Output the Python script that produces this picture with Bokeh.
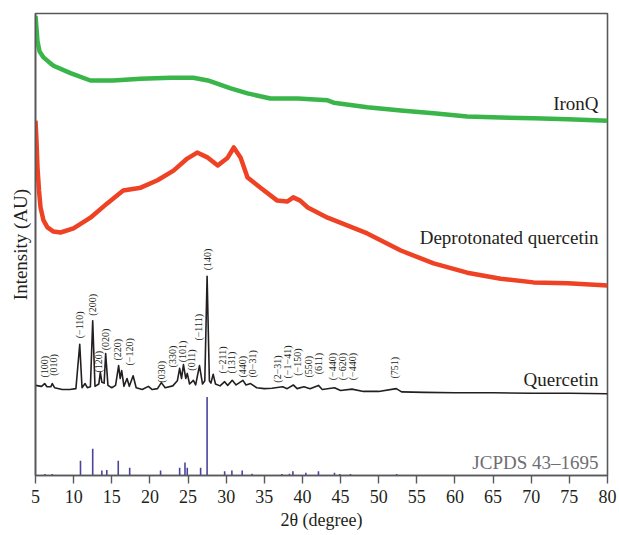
import math
from bokeh.plotting import figure
from bokeh.models import Range1d, FixedTicker, Label, ColumnDataSource, Title
from bokeh.core.properties import value
from bokeh.embed import file_html
from bokeh.resources import INLINE

# ---------------- data (2theta in degrees, intensity in arbitrary offset units) ----------------
ironq_x = [5.0, 5.13, 5.26, 5.53, 6.05, 6.97, 7.36, 9.59, 12.2, 15.2, 18.8, 22.7, 25.7, 27.6, 30.6,
           32.8, 35.8, 39.4, 43.3, 44.1, 48.5, 52.9, 57.2, 61.6, 66.0, 70.3, 74.8, 80.0]
ironq_y = [99.5, 96.8, 94.0, 91.8, 90.5, 89.2, 88.7, 87.1, 85.5, 85.5, 85.9, 86.1, 86.1, 85.5, 83.8,
           82.7, 81.6, 81.6, 81.2, 80.7, 79.7, 79.0, 78.4, 77.7, 77.5, 77.3, 77.1, 76.8]

deprot_x = [5.0, 5.13, 5.26, 5.46, 5.66, 6.05, 6.57, 7.36, 8.28, 9.98, 12.2, 14.4, 16.5, 18.8, 21.0,
            23.1, 24.9, 26.2, 27.6, 28.9, 30.2, 31.0, 31.9, 32.8, 34.5, 36.7, 38.0, 38.8, 39.7, 40.7,
            43.3, 48.5, 52.9, 57.2, 61.6, 66.0, 70.3, 74.8, 80.0]
deprot_y = [76.8, 72.5, 66.7, 61.7, 58.0, 55.2, 53.7, 52.8, 52.6, 53.5, 55.8, 58.9, 61.7, 62.3, 63.9,
            66.0, 68.6, 69.9, 68.8, 67.1, 68.8, 71.0, 68.8, 64.5, 62.3, 59.5, 59.3, 60.2, 59.5, 58.0,
            55.8, 52.4, 48.7, 45.9, 43.9, 42.6, 41.8, 41.6, 41.1]

querc_x = [5.0, 5.8, 6.2, 6.5, 7.0, 7.2, 7.5, 8.5, 9.5, 10.3, 10.8, 11.1, 11.5, 11.8, 12.2, 12.5, 12.8,
           13.3, 13.5, 13.7, 14.0, 14.2, 14.5, 15.0, 15.5, 15.9, 16.1, 16.3, 16.6, 17.0, 17.3, 17.8,
           18.2, 19.0, 19.8, 20.3, 21.0, 21.5, 22.0, 23.0, 23.6, 23.9, 24.15, 24.4, 24.7, 24.9, 25.2,
           25.7, 26.0, 26.5, 26.9, 27.2, 27.5, 27.8, 28.0, 28.3, 28.6, 29.2, 29.8, 30.2, 30.8, 31.3,
           32.2, 32.6, 33.2, 34.0, 35.0, 36.0, 37.4, 38.0, 38.8, 39.3, 40.2, 41.0, 42.1, 42.6, 44.2,
           45.0, 46.5, 48.0, 50.0, 52.3, 53.0, 56.0, 60.0, 65.0, 70.0, 75.0, 80.0]
querc_y = [19.5, 19.3, 19.9, 19.2, 19.2, 19.9, 19.0, 18.6, 18.6, 18.8, 28.4, 19.0, 19.9, 19.0, 19.2, 33.5, 19.3,
           19.8, 22.3, 20.2, 20.0, 26.4, 19.5, 19.0, 19.5, 23.8, 21.0, 22.7, 19.3, 21.0, 19.3, 21.6,
           19.0, 18.6, 19.3, 18.6, 18.8, 20.1, 19.0, 19.4, 20.5, 23.2, 21.0, 24.0, 21.0, 22.1, 19.8,
           20.6, 19.6, 23.8, 19.8, 20.5, 43.1, 20.5, 20.0, 21.9, 19.8, 19.4, 20.3, 19.5, 20.6, 19.6,
           20.6, 19.6, 19.9, 19.0, 18.8, 18.9, 19.2, 18.8, 19.6, 18.8, 19.2, 18.8, 19.5, 18.6, 19.0,
           18.4, 18.7, 18.2, 18.2, 18.8, 18.1, 18.0, 17.9, 17.9, 17.8, 17.8, 17.7]

jcpds_x = [6.25, 7.2, 10.9, 12.5, 13.7, 14.35, 15.85, 17.35, 21.4, 23.9, 24.6, 24.9, 26.65, 27.5,
           29.8, 30.75, 32.1, 33.4, 37.3, 38.3, 38.75, 40.45, 42.1, 44.2, 44.9, 46.3, 52.35]
jcpds_h = [0.3, 0.3, 3.2, 5.8, 1.1, 1.2, 3.2, 1.7, 1.1, 1.7, 2.8, 1.7, 1.7, 17.0,
           0.9, 1.1, 1.1, 0.4, 0.3, 0.4, 0.9, 0.6, 0.9, 0.6, 0.3, 0.3, 0.3]

hkl_text = ["(100)", "(010)", "(\u2212110)", "(200)", "(120)", "(020)", "(220)", "(\u2212120)", "(030)",
            "(330)", "(101)", "(011)", "(\u2212111)", "(140)", "(\u2212211)", "(131)", "(440)",
            "(0\u221231)", "(2\u221231)", "(\u22121\u221241)", "(\u2212150)", "(550)", "(611)",
            "(\u2212440)", "(\u2212620)", "(\u2212440)", "(751)"]
hkl_x = [6.18, 7.36, 10.77, 12.47, 13.26, 14.18, 15.69, 17.32, 21.52, 22.96, 24.27, 25.45, 26.37,
         27.55, 29.52, 30.7, 32.14, 33.45, 36.73, 38.04, 39.35, 40.79, 42.1, 43.94, 45.25, 46.56, 52.07]
hkl_y = [21.2, 21.6, 29.7, 34.6, 22.3, 27.1, 24.9, 23.8, 20.1, 23.4, 24.5, 22.7, 29.2,
         44.4, 22.1, 22.1, 21.2, 21.2, 20.1, 21.0, 21.6, 21.2, 21.9, 20.6, 20.6, 20.6, 21.0]

series_names = ["IronQ", "Deprotonated quercetin", "Quercetin", "JCPDS 43\u20131695"]
series_name_y = [80.5, 51.5, 20.8, 2.8]

x_ticks = [5, 10, 15, 20, 25, 30, 35, 40, 45, 50, 55, 60, 65, 70, 75, 80]
x_title = "2\u03b8 (degree)"
y_title = "Intensity (AU)"

# ---------------- styles ----------------
SERIF = "Liberation Serif"
GREEN = "#39b54a"
RED = "#ef4123"
BLACK = "#231f20"
STICK = "#4b449c"
FRAME = "#58595b"
TEXT = "#231f20"

p = figure(width=619, height=535, output_backend="svg", toolbar_location=None,
           x_range=Range1d(5, 80), y_range=Range1d(0, 100),
           min_border_left=35, min_border_right=12, min_border_top=13, min_border_bottom=60)
p.background_fill_color = "white"
p.border_fill_color = "white"
p.outline_line_color = FRAME
p.outline_line_width = 1.6
p.xgrid.visible = False
p.ygrid.visible = False

# y axis: no ticks or labels
yax = p.yaxis[0]
yax.ticker = FixedTicker(ticks=[])
yax.major_tick_out = 0
yax.major_tick_in = 0
yax.minor_tick_line_color = None
yax.major_tick_line_color = None
yax.major_label_text_font_size = "0px"
yax.major_label_standoff = 0
yax.axis_line_color = FRAME
yax.axis_line_width = 1.6

ax = p.xaxis[0]
ax.ticker = FixedTicker(ticks=x_ticks)
ax.axis_line_color = FRAME
ax.axis_line_width = 1.6
ax.major_tick_line_color = FRAME
ax.major_tick_line_width = 1.4
ax.major_tick_out = 8
ax.major_tick_in = 0
ax.minor_tick_line_color = None
ax.major_label_text_font = SERIF
ax.major_label_text_font_size = "18px"
ax.major_label_text_color = TEXT
ax.major_label_standoff = 6

# axis titles as Title annotations (serif font)
p.add_layout(Title(text=y_title, align="center", text_font=SERIF, text_font_size="19px",
                   text_font_style="normal", text_color=TEXT, standoff=9, offset=0), "left")
p.add_layout(Title(text=x_title, align="center", text_font=SERIF, text_font_size="18px",
                   text_font_style="normal", text_color=TEXT, standoff=4, offset=0), "below")

# curves
p.line(ironq_x, ironq_y, line_color=GREEN, line_width=4.5, line_join="round")
p.line(deprot_x, deprot_y, line_color=RED, line_width=4.5, line_join="round")
p.line(querc_x, querc_y, line_color=BLACK, line_width=1.6, line_join="round")
p.segment(x0=jcpds_x, y0=[0] * len(jcpds_x), x1=jcpds_x, y1=jcpds_h, line_color=STICK, line_width=1.6)

# hkl labels
src = ColumnDataSource(dict(x=hkl_x, y=hkl_y, t=hkl_text))
p.text(x="x", y="y", text="t", source=src, angle=math.pi / 2, text_align="left",
       text_baseline="middle", text_font=value(SERIF), text_font_size="10px", text_color=TEXT)

# series names
name_colors = [TEXT, TEXT, TEXT, "#6d6e71"]
for name, yy, c in zip(series_names, series_name_y, name_colors):
    p.add_layout(Label(x=78.82, y=yy, text=name, text_align="right", text_baseline="alphabetic",
                       text_font=SERIF, text_font_size="19px", text_color=c))

open("out.html", "w").write(file_html(p, INLINE))
